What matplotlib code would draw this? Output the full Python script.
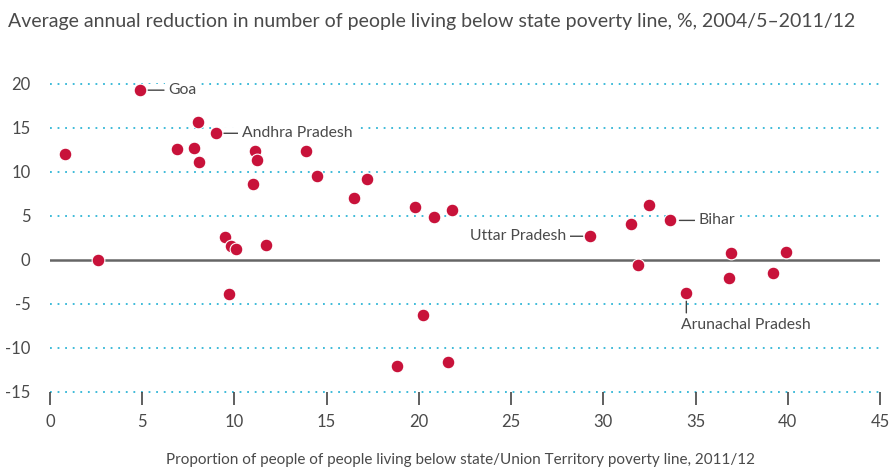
import matplotlib
matplotlib.use("Agg")
import matplotlib.pyplot as plt
import matplotlib.patheffects as pe

# Data
poverty_share = [0.8, 2.6, 4.9, 6.9, 7.8, 8.0, 8.1, 9.0, 9.5, 9.8, 10.1, 9.7,
                 11.7, 11.0, 11.1, 11.2, 13.9, 14.5, 16.5, 17.2, 19.8, 20.8,
                 21.8, 18.8, 20.2, 21.6, 29.3, 31.5, 32.5, 33.6, 31.9, 34.5,
                 36.9, 36.8, 39.2, 39.9]
reduction = [12.1, 0.0, 19.3, 12.6, 12.7, 15.7, 11.1, 14.4, 2.6, 1.6, 1.25, -3.9,
             1.7, 8.6, 12.4, 11.4, 12.4, 9.5, 7.0, 9.2, 6.0, 4.9,
             5.7, -12.0, -6.2, -11.6, 2.7, 4.1, 6.3, 4.5, -0.6, -3.8,
             0.8, -2.0, -1.5, 0.9]

labels = {2: "Goa", 7: "Andhra Pradesh", 26: "Uttar Pradesh", 29: "Bihar",
          31: "Arunachal Pradesh"}

x_ticks = [0, 5, 10, 15, 20, 25, 30, 35, 40, 45]
y_ticks = [-15, -10, -5, 0, 5, 10, 15, 20]

title = "Average annual reduction in number of people living below state poverty line, %, 2004/5\u20132011/12"
xlabel = "Proportion of people of people living below state/Union Territory poverty line, 2011/12"

TEXT = "#4a4a4a"
RED = "#c8123a"
GRID = "#2fb5d6"

plt.rcParams['font.family'] = ['Lato', 'DejaVu Sans']

fig = plt.figure(figsize=(8.91, 4.70), dpi=100)
ax = fig.add_axes([50/891, 78/470, 830/891, 308/470])
ax.set_xlim(0, 45)
ax.set_ylim(-15, 20)

for s in ax.spines.values():
    s.set_visible(False)

for yv in y_ticks:
    if yv == 0:
        ax.axhline(0, color="#666666", lw=1.8, zorder=1)
    else:
        ax.axhline(yv, color=GRID, lw=1.3, ls=(0, (1, 3.2)), zorder=1, clip_on=False)

ax.scatter(poverty_share, reduction, s=84, color=RED, edgecolor="white",
           linewidth=0.8, zorder=4, clip_on=False)

ax.set_xticks(x_ticks)
ax.set_yticks(y_ticks)
ax.set_yticklabels([str(v) for v in y_ticks])
ax.tick_params(axis='x', direction='out', length=9, width=1.2, color="#444444",
               labelsize=12, labelcolor=TEXT, pad=7)
ax.tick_params(axis='y', length=0, labelsize=12, labelcolor=TEXT, pad=14)

fig.text(8/891, 1 - 22/470, title, fontsize=14, color=TEXT, ha='left', va='center')
fig.text(460/891, 1 - 460/470, xlabel, fontsize=11, color=TEXT, ha='center', va='center')

lc = "#444444"
LFS = 11.3
white_under = [pe.Stroke(linewidth=9, foreground='white'), pe.Normal()]
box = dict(fc='white', ec='none', pad=2.5)

def side_label(i, text, right=True, line_start=0, line_end=17, text_off=19):
    x, y = poverty_share[i], reduction[i]
    sgn = 1 if right else -1
    ann = ax.annotate('', xy=(x, y), xytext=(sgn * line_end, 0), textcoords='offset points',
                      arrowprops=dict(arrowstyle='-', color=lc, lw=1.0, shrinkA=0,
                                      shrinkB=line_start))
    ann.arrow_patch.set_path_effects(white_under)
    ann.arrow_patch.set_zorder(2)
    ax.annotate(text, xy=(x, y), xytext=(sgn * text_off, 0), textcoords='offset points',
                ha='left' if right else 'right', va='center', fontsize=LFS, color=TEXT,
                bbox=box, zorder=3)

side_label(2, labels[2], line_start=5.5, line_end=17, text_off=20)
side_label(7, labels[7], line_start=5.5, line_end=18, text_off=18.5)
side_label(29, labels[29], line_start=7, line_end=18, text_off=20.5)
side_label(26, labels[26], right=False, line_start=5.5, line_end=17, text_off=17.5)

xa, ya = poverty_share[31], reduction[31]
ann = ax.annotate('', xy=(xa, ya), xytext=(0, -14), textcoords='offset points',
                  arrowprops=dict(arrowstyle='-', color=lc, lw=1.0, shrinkA=0, shrinkB=5.5))
ann.arrow_patch.set_zorder(2)
ax.annotate(labels[31], xy=(xa, ya), xytext=(-4, -23), textcoords='offset points',
            ha='left', va='center', fontsize=LFS, color=TEXT, bbox=box, zorder=3)

fig.savefig("out.png", dpi=100)
